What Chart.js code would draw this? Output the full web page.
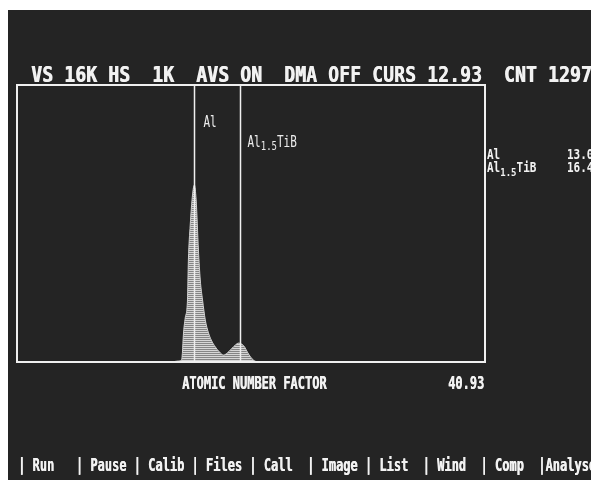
<!DOCTYPE html>
<html>
<head>
<meta charset="utf-8">
<script src="https://cdn.jsdelivr.net/npm/chart.js"></script>
<style>
    body { margin: 0; background: #fff; width: 591px; height: 480px; overflow: hidden; position: relative; }
    #screen { position: absolute; left: 8px; top: 10px; width: 583px; height: 470px; background: #242424; }
    #wrap { position: absolute; left: 0; top: 0; width: 591px; height: 480px; }
    .txt { position: absolute; color: #f2f2f2; font-family: 'DejaVu Sans Mono', monospace; font-weight: bold; white-space: pre; line-height: 1; transform-origin: 0 0; }
    #status { left: 31px; top: 64px; font-size: 18px; letter-spacing: 0.16px; transform: scaleY(1.2); text-shadow: 0.7px 0 0 #f2f2f2; }
    #menu { left: 18px; top: 457px; font-size: 12px; transform: scaleY(1.4); text-shadow: 0.4px 0 0 #f2f2f2; }
    #axis-title { left: 182px; top: 374px; font-size: 12px; transform: scaleY(1.45); text-shadow: 0.4px 0 0 #f2f2f2; }
    #axis-max { left: 448px; top: 374px; font-size: 12px; transform: scaleY(1.45); text-shadow: 0.4px 0 0 #f2f2f2; }
    #factors { left: 487px; top: 148px; font-size: 11px; line-height: 11px; transform: scaleY(1.2); }
    #factors .name { display: inline-block; width: 80px; }
    #factors .sub { position: relative; top: 3px; font-size: 9px; }
</style>
</head>
<body>
<div id="screen"></div>
<div id="wrap"><canvas id="spectrum"></canvas></div>
<div class="txt" id="status"></div>
<div class="txt" id="axis-title"></div>
<div class="txt" id="axis-max"></div>
<div class="txt" id="factors"></div>
<div class="txt" id="menu"></div>
<script>
// spectrum (channel, counts), 1K channels, 16K vertical scale
const channels = [0, 335, 353, 360, 362, 364, 368, 373, 375, 379, 384, 388, 392, 397, 401, 406, 412, 419, 425, 434, 443, 452, 460, 469, 478, 485, 491, 498, 504, 511, 517, 528, 1024];
const counts = [0, 0, 60, 120, 590, 1600, 2600, 3670, 6030, 8100, 9880, 10470, 9580, 6620, 4850, 3670, 2480, 1720, 1300, 890, 590, 410, 530, 770, 1010, 1120, 1070, 890, 590, 300, 120, 0, 0];
const markerChannels = [388, 488];
const markerNames = ['Al', 'Al1.5TiB'];
const markerFactors = ['13.0', '16.4'];
const statusLine = 'VS 16K HS  1K  AVS ON  DMA OFF CURS 12.93  CNT 12972';
const axisTitle = 'ATOMIC NUMBER FACTOR';
const axisMax = '40.93';
const menuItems = ['Run', 'Pause', 'Calib', 'Files', 'Call', 'Image', 'List', 'Wind', 'Comp', 'Analyse'];

const splitFormula = (name) => name.split(/(\d+(?:\.\d+)?)/).filter(s => s !== '');

document.getElementById('status').textContent = statusLine;
document.getElementById('axis-title').textContent = axisTitle;
document.getElementById('axis-max').textContent = axisMax;
document.getElementById('menu').textContent = menuItems.map((item, i) =>
    i === menuItems.length - 1 ? `|${item}|` : `| ${item.padEnd(6)}`
).join('');
document.getElementById('factors').innerHTML = markerNames.map((name, i) => {
    const label = splitFormula(name).map(part => /\d/.test(part) ? `<span class="sub">${part}</span>` : part).join('');
    return `<span class="name">${label}</span>${markerFactors[i]}`;
}).join('\n');

// hatched fill like the old CRT display
const makeHatch = () => {
    const c = document.createElement('canvas');
    c.width = 2; c.height = 2;
    const g = c.getContext('2d');
    g.fillStyle = '#d6d6d6'; g.fillRect(0, 0, 2, 1);
    g.fillStyle = '#858585'; g.fillRect(0, 1, 2, 1);
    return g.createPattern(c, 'repeat');
};

const screenPlugin = {
    id: 'screenPlugin',
    afterDraw(chart) {
        const { ctx, chartArea: a, scales: { x } } = chart;
        const labelTops = [30, 50];
        const labelGaps = [9, 7];
        ctx.save();
        ctx.strokeStyle = '#efefef';
        ctx.lineWidth = 2;
        ctx.strokeRect(a.left, a.top, a.right - a.left, a.bottom - a.top);
        ctx.fillStyle = '#ececec';
        markerChannels.forEach((ch, i) => {
            const px = Math.round(x.getPixelForValue(ch)) + 0.5;
            ctx.lineWidth = 1.5;
            ctx.beginPath();
            ctx.moveTo(px, a.top);
            ctx.lineTo(px, a.bottom);
            ctx.stroke();
            let tx = px + labelGaps[i];
            const base = a.top + labelTops[i] + 12;
            splitFormula(markerNames[i]).forEach(part => {
                const sub = /\d/.test(part);
                ctx.font = sub ? '9px "DejaVu Sans Mono"' : '11px "DejaVu Sans Mono"';
                ctx.save();
                ctx.translate(tx, base + (sub ? 3 : 0));
                ctx.scale(1, 1.45);
                ctx.fillText(part, 0, 0);
                ctx.restore();
                tx += ctx.measureText(part).width;
            });
        });
        ctx.restore();
    }
};

const config = {
    type: 'line',
    data: {
        datasets: [{
            data: channels.map((ch, i) => ({ x: ch, y: counts[i] })),
            borderColor: '#d0d0d0',
            borderWidth: 1,
            backgroundColor: makeHatch(),
            fill: 'origin',
            pointRadius: 0,
            cubicInterpolationMode: 'monotone'
        }]
    },
    options: {
        responsive: true,
        maintainAspectRatio: false,
        animation: false,
        layout: { padding: { left: 17, top: 85, right: 106, bottom: 118 } },
        plugins: { legend: { display: false }, tooltip: { enabled: false }, title: { display: false } },
        scales: {
            x: { type: 'linear', display: false, min: 0, max: 1024 },
            y: { display: false, min: 0, max: 16384 }
        }
    },
    plugins: [screenPlugin]
};

const ctx = document.getElementById('spectrum');
const spectrumChart = new Chart(ctx, config);
</script>
</body>
</html>
